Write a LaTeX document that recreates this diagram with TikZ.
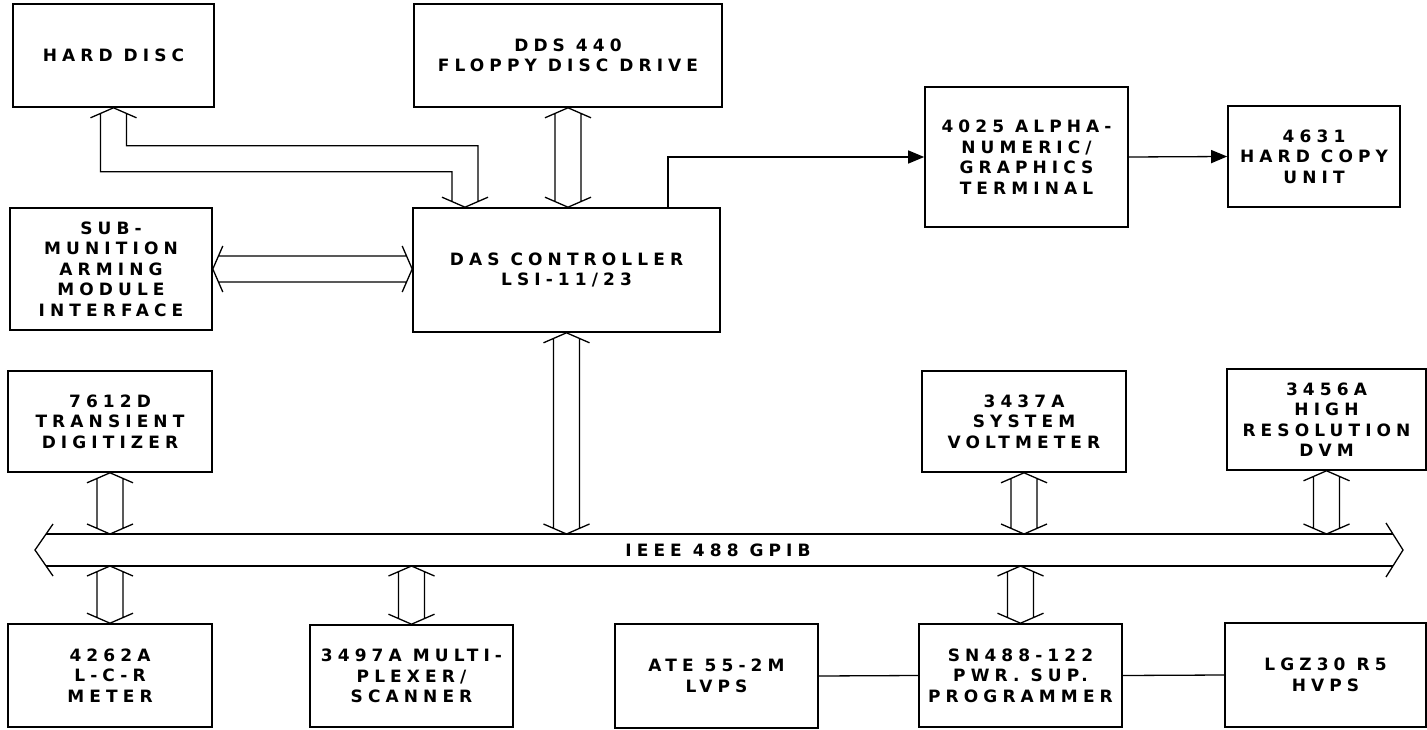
\documentclass[tikz,border=0pt]{standalone}
\usepackage{fontspec}
\newfontfamily\labfont{DejaVu Sans}[LetterSpace=30]
\usetikzlibrary{arrows.meta,calc}
\tikzset{
  box/.style={draw, line width=1.6pt, align=center, inner sep=0pt,
    font={\labfont\bfseries\fontsize{17}{20.5}\selectfont}},
  lbl/.style={align=center, inner sep=0pt,
    font={\labfont\bfseries\fontsize{17}{20.5}\selectfont}},
  pipe/.style={line width=1.3pt, line join=miter},
  sig/.style={line width=1.3pt, -{Triangle[length=16pt,width=13pt]}},
  wire/.style={line width=1.3pt},
}
% vertical double-headed hollow pipe between a top point and a bottom point
\newcommand\vpipe[2]{\draw[pipe] let \p1=(#1), \p2=(#2) in
  (\x1-23pt,\y1-10pt) -- (\x1,\y1) -- (\x1+23pt,\y1-10pt)
  (\x1-13pt,\y1-5.7pt) -- (\x1-13pt,\y2+5.7pt)
  (\x1+13pt,\y1-5.7pt) -- (\x1+13pt,\y2+5.7pt)
  (\x1-23pt,\y2+10pt) -- (\x1,\y2) -- (\x1+23pt,\y2+10pt);}
\begin{document}
\begin{tikzpicture}[x=1pt,y=-1pt]
\useasboundingbox (0,0) rectangle (1427,730);
% top row
\node[box, minimum width=201pt, minimum height=103pt] (hd) at (113.5,55.5) {HARD DISC};
\node[box, minimum width=308pt, minimum height=103pt] (fd) at (568,55.5) {DDS 440\\FLOPPY DISC DRIVE};
\node[box, minimum width=203pt, minimum height=140pt] (term) at (1026.5,157) {4025 ALPHA-\\NUMERIC/\\GRAPHICS\\TERMINAL};
\node[box, minimum width=172pt, minimum height=101pt] (hc) at (1314,156.5) {4631\\HARD COPY\\UNIT};
% second row
\node[box, minimum width=202pt, minimum height=122pt] (sm) at (111,269) {SUB-\\MUNITION\\ARMING\\MODULE\\INTERFACE};
\node[box, minimum width=307pt, minimum height=124pt] (das) at (566.5,270) {DAS CONTROLLER\\LSI-11/23};
% third row
\node[box, minimum width=204pt, minimum height=101pt] (td) at (110,421.5) {7612D\\TRANSIENT\\DIGITIZER};
\node[box, minimum width=204pt, minimum height=101pt] (vm) at (1024,421.5) {3437A\\SYSTEM\\VOLTMETER};
\node[box, minimum width=199pt, minimum height=101pt] (dvm) at (1326.5,419.5) {3456A\\HIGH\\RESOLUTION\\DVM};
% bottom row
\node[box, minimum width=204pt, minimum height=103pt] (lcr) at (110,675.5) {4262A\\L-C-R\\METER};
\node[box, minimum width=203pt, minimum height=102pt] (mux) at (411.5,676) {3497A MULTI-\\PLEXER/\\SCANNER};
\node[box, minimum width=203pt, minimum height=104pt] (ate) at (716.5,676) {ATE 55-2M\\LVPS};
\node[box, minimum width=203pt, minimum height=103pt] (sn) at (1020.5,675.5) {SN488-122\\PWR. SUP.\\PROGRAMMER};
\node[box, minimum width=201pt, minimum height=104pt] (lgz) at (1325.5,675) {LGZ30 R5\\HVPS};
% GPIB bus
\coordinate (busL) at (35,550);
\coordinate (busR) at (1403,550);
\coordinate (busT) at (718,534);
\coordinate (busB) at (718,566);
\draw[pipe] (53,524) -- (busL) -- (53,576);
\draw[pipe] (1386,523) -- (busR) -- (1386,577);
\draw[pipe] (46,534) -- (1393,534) (46,566) -- (1393,566);
\node[lbl] (gpib) at (718,550) {IEEE 488 GPIB};
% pipes to and from the bus
\vpipe{das.south}{das.south |- busT}
\vpipe{td.south}{td.south |- busT}
\vpipe{vm.south}{vm.south |- busT}
\vpipe{dvm.south}{dvm.south |- busT}
\vpipe{lcr.north |- busB}{lcr.north}
\vpipe{mux.north |- busB}{mux.north}
\vpipe{sn.north |- busB}{sn.north}
% floppy to controller
\vpipe{fd.south}{das.north}
% hard disc to controller (bent pipe)
\draw[pipe] let \p1=(hd.south), \p2=([xshift=-101.5pt]das.north), \p3=($(hd.south)+(0,51)$) in
  (\x1-23pt,\y1-10pt) -- (\x1,\y1) -- (\x1+23pt,\y1-10pt)
  (\x1-13pt,\y1-5.7pt) |- (\x2-13pt,\y3-13pt) -- (\x2-13pt,\y2+5.7pt)
  (\x1+13pt,\y1-5.7pt) |- (\x2+13pt,\y3+13pt) -- (\x2+13pt,\y2+5.7pt)
  (\x2-23pt,\y2+10pt) -- (\x2,\y2) -- (\x2+23pt,\y2+10pt);
% sub-munition to controller
\draw[pipe] let \p1=(sm.east), \p2=(das.west) in
  (\x1+10pt,\y1+23pt) -- (\x1,\y1) -- (\x1+10pt,\y1-23pt)
  (\x1+5.7pt,\y1+13pt) -- (\x2-5.7pt,\y1+13pt)
  (\x1+5.7pt,\y1-13pt) -- (\x2-5.7pt,\y1-13pt)
  (\x2-10pt,\y1+23pt) -- (\x2,\y1) -- (\x2-10pt,\y1-23pt);
% signal arrows
\draw[sig] ([xshift=101.5pt]das.north) |- (term.west);
\draw[sig] (term.east) -- (hc.west);
% power supply wires
\draw[wire] (ate.east) -- (sn.west);
\draw[wire] (sn.east) -- (lgz.west);
\end{tikzpicture}
\end{document}
